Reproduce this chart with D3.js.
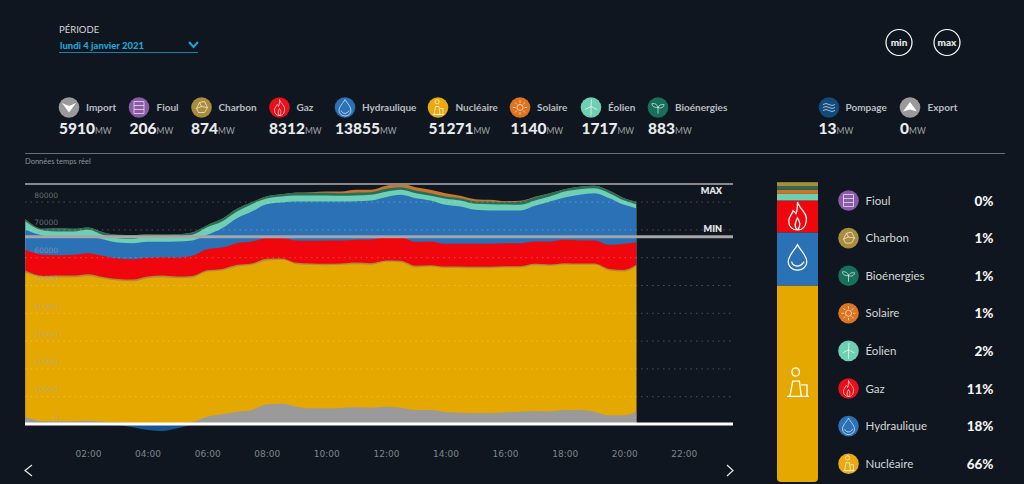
<!DOCTYPE html>
<html lang="fr">
<head>
<meta charset="utf-8">
<title>Mix de production</title>
<script src="https://cdn.jsdelivr.net/npm/d3@7"></script>
<style>
  html, body { margin: 0; background: #10161f; overflow: hidden; }
  svg { display: block; font-family: Lato, "Open Sans", sans-serif; }
  .x-axis text, .y-axis text { font-family: "DejaVu Sans", sans-serif; }
</style>
</head>
<body>
<svg id="chart" width="1024" height="484"></svg>
<script>
// heures de la journée (le relevé s'arrête à 20h24)
const hours = [-0.1, 0.5, 1, 1.5, 2, 2.5, 3, 3.5, 4, 4.5, 5, 5.5, 6, 6.5, 7, 7.5, 8, 8.5, 9, 9.5, 10,
  10.5, 11, 11.5, 12, 12.5, 13, 13.5, 14, 14.5, 15, 15.5, 16, 16.5, 17, 17.5, 18, 18.5, 19, 19.5, 20, 20.4];

const importSerie = [2640, 960, 960, 960, 1200, 840, 720, 240, 120, 120, 240, 720, 2640, 3480, 4440, 5040, 7080, 7320, 6240, 5640, 5640,
  5760, 6000, 5880, 6240, 5880, 5040, 5040, 4320, 4080, 3960, 3960, 4200, 4440, 4680, 4560, 5040, 5040, 4440, 3120, 3120, 4440];
const nucleaire = [51840, 51840, 51840, 51840, 52080, 51480, 50880, 51120, 52320, 52680, 52200, 51960, 52200, 51720, 52200, 52200, 51720, 51720, 51240, 51600, 51480,
  51480, 51480, 51360, 52080, 52320, 51240, 51600, 51840, 52080, 52080, 52080, 52080, 51840, 52440, 52320, 52320, 52200, 52800, 52080, 51720, 52200];
const charbon = [720, 480, 600, 600, 600, 600, 600, 600, 600, 600, 600, 600, 480, 600, 600, 480, 600, 480, 480, 480, 480,
  480, 600, 600, 480, 480, 600, 480, 480, 480, 480, 480, 480, 480, 480, 480, 480, 480, 480, 600, 600, 600];
const gaz = [7440, 7560, 7320, 7440, 7560, 7560, 7320, 7320, 6720, 6600, 6840, 7200, 7560, 7680, 7800, 7920, 7440, 7320, 8040, 8160, 8400,
  8280, 8160, 8520, 8280, 8400, 8640, 8520, 8160, 8160, 8280, 8280, 8280, 8280, 8040, 8280, 8400, 8280, 8280, 8640, 9360, 8160];
const hydraulique = [7200, 6840, 6360, 6240, 6000, 6000, 5760, 5760, 5760, 5520, 5760, 5520, 5160, 6960, 9000, 10800, 12240, 12840, 14040, 14160, 14040,
  14040, 13920, 14040, 14520, 15360, 15720, 14760, 14040, 13440, 12240, 12000, 11760, 11760, 12840, 14400, 15240, 16440, 17040, 16800, 14040, 12240];
const eolien = [3000, 1920, 2160, 2160, 2400, 1560, 1560, 1560, 1920, 1920, 1800, 2040, 2760, 2400, 2400, 2640, 2040, 2160, 2160, 2160, 2160,
  2040, 2040, 2040, 1920, 1800, 1800, 1680, 2160, 2160, 2160, 2280, 2160, 2040, 1920, 1800, 2160, 2040, 1800, 1800, 1560, 1440];
const bioenergies = [840, 600, 1200, 960, 840, 960, 1200, 1320, 840, 720, 840, 840, 720, 960, 960, 720, 840, 840, 960, 960, 960,
  960, 1080, 960, 1080, 960, 960, 960, 840, 840, 960, 960, 840, 1200, 1200, 1200, 840, 840, 840, 840, 840, 840];
const solaire = [0, 0, 0, 0, 0, 0, 0, 0, 0, 0, 0, 0, 0, 0, 0, 0, 0, 0, 120, 240, 480,
  600, 960, 840, 1080, 1200, 1200, 1200, 1200, 840, 720, 600, 360, 240, 120, 0, 0, 0, 0, 0, 0, 0];
const pompage = [0, 0, 0, 0, 0, 0, -360, -1200, -2160, -2520, -1560, -360, 0, 0, 0, 0, 0, 0, 0, 0, 0,
  0, 0, 0, 0, 0, 0, 0, 0, 0, 0, 0, 0, 0, 0, 0, 0, 0, 0, 0, 0, 0];

const yTicks = [0, 10000, 20000, 30000, 40000, 50000, 60000, 70000, 80000];
const xTicks = [2, 4, 6, 8, 10, 12, 14, 16, 18, 20, 22];
const maxValue = 86300;
const minValue = 67400;

// bandeau du haut
const headerNames = ['Import', 'Fioul', 'Charbon', 'Gaz', 'Hydraulique', 'Nucléaire', 'Solaire', 'Éolien', 'Bioénergies', 'Pompage', 'Export'];
const headerValues = [5910, 206, 874, 8312, 13855, 51271, 1140, 1717, 883, 13, 0];
const headerKeys = ['import', 'fioul', 'charbon', 'gaz', 'hydraulique', 'nucleaire', 'solaire', 'eolien', 'bioenergies', 'pompage', 'export'];
const headerIconX = [69, 139, 201.5, 279.5, 345, 438, 520, 591, 658, 829, 910];
const headerLabelX = [86, 156.5, 218.5, 296.5, 362, 455.5, 537, 608, 675, 845.5, 927.5];
const headerValueX = [59, 129.5, 191, 269, 335, 428.5, 510.5, 581.5, 648, 818.5, 900];

// légende de droite
const legendNames = ['Fioul', 'Charbon', 'Bioénergies', 'Solaire', 'Éolien', 'Gaz', 'Hydraulique', 'Nucléaire'];
const legendKeys = ['fioul', 'charbon', 'bioenergies', 'solaire', 'eolien', 'gaz', 'hydraulique', 'nucleaire'];
const legendPercents = ['0%', '1%', '1%', '1%', '2%', '11%', '18%', '66%'];

// barre empilée, de bas en haut
const barKeys = ['nucleaire', 'hydraulique', 'gaz', 'eolien', 'solaire', 'bioenergies', 'charbon', 'fioul'];
const barValues = [51271, 13855, 8312, 1717, 1140, 883, 874, 206];

const colors = {
  import: '#9a9a9a', fioul: '#a98c3c', charbon: '#a98c3c', gaz: '#f0070d', hydraulique: '#2a72b5',
  nucleaire: '#e4a800', solaire: '#c9752c', eolien: '#6fcfb5', bioenergies: '#276f5a',
  pompage: '#17568e', export: '#9a9a9a'
};
const iconBg = { ...colors, fioul: '#8a5ba6', gaz: '#e8101a', nucleaire: '#e8aa10', solaire: '#dc7420', bioenergies: '#17705c', pompage: '#124a7c' };

const icons = {
  fioul: 'M-5,-6 H5 M-5,6 H5 M-5,-6 V6 M5,-6 V6 M-5,-2 H5 M-5,2 H5',
  charbon: 'M-5,1 L-2,-5 L3,-6 L6,0 L3,5 L-3,5 Z M-2,-5 L0,-1 L-5,1 M0,-1 L6,0',
  gaz: 'M0,-8 C1,-4 6,-2 5,3 C4.5,7 2,8 0,8 C-3,8 -5,6 -5,3 C-5,0 -3,-1 -2.5,-3 C-1.5,-2.5 -1,-2 -1,-1 C0,-3 0,-6 0,-8 Z M0,8 C-2.5,6 -1,3 0,1 C1,3 2.5,5 0,8',
  hydraulique: 'M0,-8 C2,-4 6,-1 6,3 A6,5.5 0 0 1 -6,3 C-6,-1 -2,-4 0,-8 Z M-3.8,3 C-3,6.5 2,7 4.2,3',
  nucleaire: 'M-2.5,-1 L-4,7 H2 L1,-1 Z M2,1 H5 V7 H2 M-5.5,7 H6 M-1,-8 A2,2.2 0 1 0 -0.9,-3.6 A2,2.2 0 1 0 -1,-8',
  solaire: 'M3,0 A3,3 0 1 1 -3,0 A3,3 0 1 1 3,0 M0,-7 V-4.5 M0,4.5 V7 M-7,0 H-4.5 M4.5,0 H7 M-5,-5 L-3.2,-3.2 M3.2,3.2 L5,5 M-5,5 L-3.2,3.2 M3.2,-3.2 L5,-5',
  eolien: 'M0,-1 V8 M0,-1 L0.5,-8 M0,-1 L6,2 M0,-1 L-6,2',
  bioenergies: 'M0,6 V0 M0,0 C-1,-4 -4,-4 -6,-4 C-6,-1 -4,0 0,0 M0,0 C1,-3 4,-3 6,-3 C6,0 3,1 0,0',
  pompage: 'M-6,-3 Q-3,-5 0,-3 T6,-3 M-6,0 Q-3,-2 0,0 T6,0 M-6,3 Q-3,1 0,3 T6,3'
};

const svg = d3.select('#chart');

const x = d3.scaleLinear().domain([-0.114, 23.65]).range([25, 733]);
const y = d3.scaleLinear().domain([-10000, 90000]).range([451.8, 173.8]);

// aires empilées
const rows = hours.map((h, i) => ({
  hour: h, import: importSerie[i], nucleaire: nucleaire[i], charbon: charbon[i], gaz: gaz[i],
  hydraulique: hydraulique[i], eolien: eolien[i], bioenergies: bioenergies[i], solaire: solaire[i], pompage: pompage[i]
}));
const stackKeys = ['import', 'nucleaire', 'charbon', 'gaz', 'hydraulique', 'eolien', 'bioenergies', 'solaire'];
const stacked = d3.stack().keys(stackKeys)(rows);

const area = d3.area()
  .x(d => x(d.data.hour))
  .y0(d => y(d[0]))
  .y1(d => y(d[1]))
  .curve(d3.curveMonotoneX);

// dessinées du haut vers le bas : chaque aire descend jusqu'au zéro, pas de joint sombre
svg.append('g').selectAll('path')
  .data(stacked.slice().reverse())
  .join('path')
  .attr('d', d => d3.area()
    .x(p => x(p.data.hour))
    .y0(y(0))
    .y1(p => y(p[1]))
    .curve(d3.curveMonotoneX)(d))
  .attr('fill', d => colors[d.key]);

svg.append('path')
  .datum(rows)
  .attr('fill', colors.pompage)
  .attr('d', d3.area()
    .x(d => x(d.hour))
    .y0(y(0))
    .y1(d => y(d.pompage))
    .curve(d3.curveMonotoneX));

// grille pointillée et libellés de l'axe Y
const grid = svg.append('g')
  .attr('transform', 'translate(25,0)')
  .call(d3.axisRight(y).tickValues(yTicks.slice(1)).tickSize(708).tickFormat(''));
grid.select('.domain').remove();
grid.selectAll('line')
  .attr('stroke', '#fff')
  .attr('stroke-opacity', 0.25)
  .attr('stroke-dasharray', '1.5 4');

const yAxis = svg.append('g')
  .attr('class', 'y-axis')
  .attr('transform', 'translate(58,-7)')
  .call(d3.axisLeft(y).tickValues(yTicks).tickSize(0).tickPadding(0).tickFormat(d3.format('d')));
yAxis.select('.domain').remove();
yAxis.selectAll('text')
  .attr('font-size', 7.5)
  .attr('fill', '#a8a8a8')
  .attr('fill-opacity', 0.6);

const xAxis = svg.append('g')
  .attr('class', 'x-axis')
  .attr('transform', 'translate(0,451)')
  .call(d3.axisBottom(x).tickValues(xTicks).tickSize(0).tickPadding(0)
    .tickFormat(d => String(d).padStart(2, '0') + ':00'));
xAxis.select('.domain').remove();
xAxis.selectAll('text')
  .attr('font-size', 9)
  .attr('fill', '#7f848b');

// lignes max, min et zéro
const refLines = [
  { value: maxValue, color: '#85888d', width: 2, label: 'MAX', dy: 10 },
  { value: minValue, color: '#a4a6a9', width: 3, label: 'MIN', dy: -5 }
];
refLines.forEach(d => {
  svg.append('line')
    .attr('x1', 25).attr('x2', 733)
    .attr('y1', y(d.value)).attr('y2', y(d.value))
    .attr('stroke', d.color)
    .attr('stroke-width', d.width);
  svg.append('text')
    .attr('x', 722).attr('y', y(d.value) + d.dy)
    .attr('text-anchor', 'end')
    .attr('font-size', 9)
    .attr('font-weight', 800)
    .attr('fill', '#e6e6e6')
    .text(d.label);
});
svg.append('line')
  .attr('x1', 25).attr('x2', 733)
  .attr('y1', y(0)).attr('y2', y(0))
  .attr('stroke', '#fff')
  .attr('stroke-width', 3);

// flèches de navigation
[[32, 25, 32], [727, 733, 727]].forEach(a => {
  svg.append('path')
    .attr('d', d3.line()([[a[0], 465], [a[1], 470.5], [a[2], 476]]))
    .attr('fill', 'none')
    .attr('stroke', '#e8e8e8')
    .attr('stroke-width', 1.2);
});

// période
svg.append('text').attr('x', 59).attr('y', 33).attr('font-size', 9.5).attr('fill', '#d6d8db').text('PÉRIODE');
svg.append('text').attr('x', 60).attr('y', 48.5).attr('font-size', 9.5).attr('font-weight', 900)
  .attr('fill', '#1ea5d6').text('lundi 4 janvier 2021');
svg.append('line').attr('x1', 59).attr('x2', 198).attr('y1', 52.5).attr('y2', 52.5)
  .attr('stroke', '#1a7fa8').attr('stroke-width', 1);
svg.append('path').attr('d', 'M189,42 L193.5,47 L198,42').attr('fill', 'none')
  .attr('stroke', '#1ea5d6').attr('stroke-width', 2);

// boutons min / max
[['min', 899], ['max', 947]].forEach(b => {
  svg.append('circle').attr('cx', b[1]).attr('cy', 42.5).attr('r', 13)
    .attr('fill', 'none').attr('stroke', '#fff').attr('stroke-width', 1.2);
  svg.append('text').attr('x', b[1]).attr('y', 46).attr('text-anchor', 'middle')
    .attr('font-size', 10).attr('font-weight', 900).attr('fill', '#e8e8e8').text(b[0]);
});

function drawIcon(parent, key, cx, cy, r) {
  const g = parent.append('g').attr('transform', `translate(${cx},${cy})`);
  g.append('circle').attr('r', r).attr('fill', iconBg[key]);
  if (key === 'import') {
    g.append('path').attr('d', 'M-7,-4.5 L0,-1.5 L7,-4.5 L0,5 Z').attr('fill', '#fff');
  } else if (key === 'export') {
    g.append('path').attr('d', 'M0,-5.5 L7,4 L0,2 L-7,4 Z').attr('fill', '#fff');
  } else {
    g.append('path').attr('d', icons[key]).attr('fill', 'none')
      .attr('stroke', '#fff').attr('stroke-opacity', 0.8).attr('stroke-width', 0.8);
  }
}

headerKeys.forEach((key, i) => {
  drawIcon(svg, key, headerIconX[i], 107.5, 10.3);
  svg.append('text').attr('x', headerLabelX[i]).attr('y', 111).attr('font-size', 10)
    .attr('font-weight', 700).attr('fill', '#b9bdc2').text(headerNames[i]);
  const t = svg.append('text').attr('x', headerValueX[i]).attr('y', 134)
    .attr('font-size', 15.5).attr('font-weight', 900).attr('fill', '#e8eaec');
  t.append('tspan').text(headerValues[i]);
  t.append('tspan').attr('font-size', 8.5).attr('font-weight', 400).attr('fill', '#9fa3a8').text('MW');
});

svg.append('line').attr('x1', 25).attr('x2', 1005).attr('y1', 153.5).attr('y2', 153.5)
  .attr('stroke', '#6a6f76').attr('stroke-width', 1);
svg.append('text').attr('x', 25).attr('y', 164).attr('font-size', 7.5).attr('fill', '#8e9298').text('Données temps réel');

// barre de répartition
const barRow = Object.fromEntries(barKeys.map((k, i) => [k, barValues[i]]));
const barStack = d3.stack().keys(barKeys)([barRow]);
const barY = d3.scaleLinear().domain([0, d3.sum(barValues)]).range([482, 182]);

svg.append('clipPath').attr('id', 'bar-clip')
  .append('path').attr('d', 'M777,182 H818 V478 Q818,482 814,482 H781 Q777,482 777,478 Z');
svg.append('g').attr('clip-path', 'url(#bar-clip)')
  .selectAll('rect')
  .data(barStack)
  .join('rect')
  .attr('x', 777)
  .attr('width', 41)
  .attr('y', d => barY(d[0][1]))
  .attr('height', d => barY(d[0][0]) - barY(d[0][1]))
  .attr('fill', d => colors[d.key]);

[['gaz', 216, 1.75, 0.7], ['hydraulique', 257, 1.55, 0.8], ['nucleaire', 383, 1.9, 0.7]].forEach(b => {
  svg.append('path')
    .attr('d', icons[b[0]])
    .attr('transform', `translate(797.5,${b[1]}) scale(${b[2]})`)
    .attr('fill', 'none')
    .attr('stroke', '#fff')
    .attr('stroke-width', b[3]);
});

// légende
const legendY = d3.scalePoint().domain(legendKeys).range([200.5, 463.7]);
legendKeys.forEach((key, i) => {
  drawIcon(svg, key, 848.5, legendY(key), 10.3);
  svg.append('text').attr('x', 865.5).attr('y', legendY(key) + 4).attr('font-size', 11.5)
    .attr('fill', '#d4d6d9').text(legendNames[i]);
  svg.append('text').attr('x', 993.5).attr('y', legendY(key) + 5).attr('text-anchor', 'end')
    .attr('font-size', 13.5).attr('font-weight', 900).attr('fill', '#f2f2f2').text(legendPercents[i]);
});
</script>
</body>
</html>
